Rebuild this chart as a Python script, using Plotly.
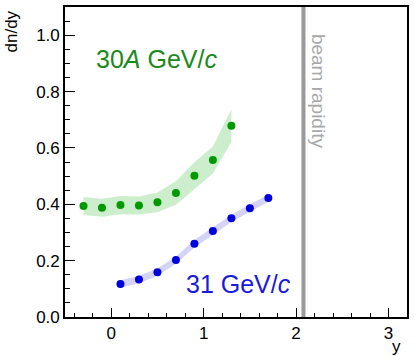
import plotly.graph_objects as go

# Data
y30_x = [-0.3, -0.1, 0.1, 0.3, 0.5, 0.7, 0.9, 1.1, 1.3]
y30_val = [0.394, 0.388, 0.397, 0.396, 0.407, 0.440, 0.501, 0.557, 0.679]
y30_err = [0.032, 0.032, 0.032, 0.032, 0.035, 0.042, 0.048, 0.048, 0.058]

y31_x = [0.1, 0.3, 0.5, 0.7, 0.9, 1.1, 1.3, 1.5, 1.7]
y31_val = [0.117, 0.133, 0.159, 0.202, 0.260, 0.305, 0.350, 0.386, 0.422]
y31_err = [0.013, 0.013, 0.013, 0.013, 0.013, 0.013, 0.013, 0.013, 0.013]

beam_rapidity = 2.08

x_tickvals = [0, 1, 2, 3]
y_tickvals = [0.0, 0.2, 0.4, 0.6, 0.8, 1.0]
y_ticktext = ["0.0", "0.2", "0.4", "0.6", "0.8", "1.0"]

FONT = "Liberation Sans, Arial, Helvetica, sans-serif"
GREEN = "#009a00"
BLUE = "#0000dd"

fig = go.Figure()

def band(xs, vals, errs, color):
    up = [v + e for v, e in zip(vals, errs)]
    lo = [v - e for v, e in zip(vals, errs)]
    return go.Scatter(x=xs + xs[::-1], y=up + lo[::-1], fill="toself",
                      fillcolor=color, line=dict(width=0), mode="lines",
                      hoverinfo="skip", showlegend=False)

fig.add_trace(band(y30_x, y30_val, y30_err, "rgba(0,170,0,0.2)"))
fig.add_trace(band(y31_x, y31_val, y31_err, "rgba(40,40,220,0.2)"))

fig.add_trace(go.Scatter(x=y30_x, y=y30_val, mode="markers",
                         marker=dict(color=GREEN, size=8), showlegend=False))
fig.add_trace(go.Scatter(x=y31_x, y=y31_val, mode="markers",
                         marker=dict(color=BLUE, size=8), showlegend=False))

fig.add_shape(type="line", x0=beam_rapidity, x1=beam_rapidity, y0=0, y1=1,
              xref="x", yref="paper", line=dict(color="#9a9a9a", width=4))

fig.add_annotation(x=beam_rapidity, y=1.01, xref="x", yref="y",
                   text="beam rapidity", textangle=90, showarrow=False,
                   xanchor="left", yanchor="top", xshift=2,
                   font=dict(family=FONT, size=19, color="#a8a8a8"))

fig.add_annotation(x=0.49, y=0.915, xref="x", yref="y",
                   text="30<i>A</i> GeV/<i>c</i>", showarrow=False,
                   font=dict(family=FONT, size=25, color="#1a8a1a"))
fig.add_annotation(x=1.38, y=0.116, xref="x", yref="y",
                   text="31 GeV/<i>c</i>", showarrow=False,
                   font=dict(family=FONT, size=25, color="#1a1add"))

# Axis titles
fig.add_annotation(x=0, y=1, xref="paper", yref="paper", text="dn/dy",
                   textangle=-90, showarrow=False, xanchor="right", yanchor="top",
                   xshift=-43, yshift=-2,
                   font=dict(family=FONT, size=17, color="black"))
fig.add_annotation(x=1, y=0, xref="paper", yref="paper", text="y",
                   showarrow=False, xanchor="right", yanchor="top",
                   xshift=-4, yshift=-18,
                   font=dict(family=FONT, size=17, color="black"))

fig.update_xaxes(range=[-0.5, 3.2], tickvals=x_tickvals, ticks="inside",
                 ticklen=9, tickwidth=1.2, tickcolor="black",
                 minor=dict(dtick=0.2, ticks="inside", ticklen=4.5,
                            tickwidth=1.2, tickcolor="black"),
                 showline=True, linecolor="black", linewidth=1.6, mirror=True,
                 showgrid=False, zeroline=False,
                 tickfont=dict(family=FONT, size=17, color="black"))
fig.update_yaxes(range=[0, 1.1], tickvals=y_tickvals, ticktext=y_ticktext,
                 ticks="inside", ticklen=10, tickwidth=1.2, tickcolor="black",
                 minor=dict(dtick=0.05, ticks="inside", ticklen=5,
                            tickwidth=1.2, tickcolor="black"),
                 showline=True, linecolor="black", linewidth=1.6, mirror=True,
                 showgrid=False, zeroline=False,
                 tickfont=dict(family=FONT, size=17, color="black"))

fig.update_layout(width=414, height=357,
                  margin=dict(l=65, r=5, t=7, b=40),
                  plot_bgcolor="white", paper_bgcolor="white",
                  showlegend=False)

fig.write_html("out.html")
